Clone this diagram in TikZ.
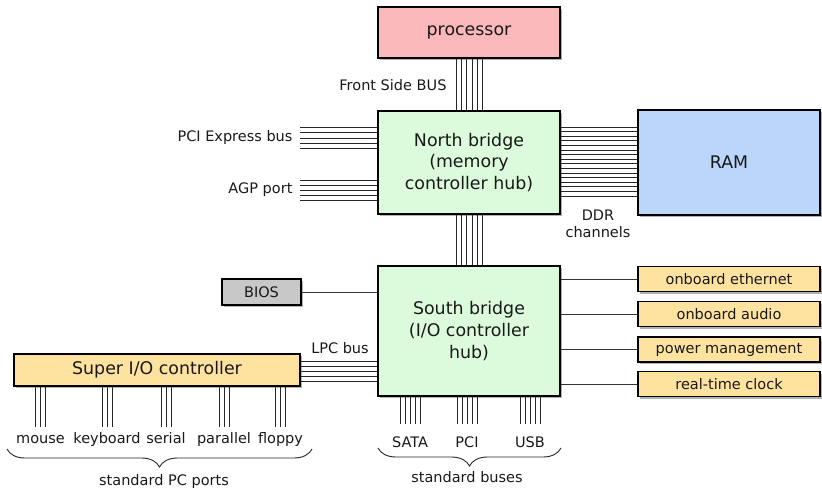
\documentclass[tikz,border=0pt]{standalone}
\usepackage{fontspec}
\setmainfont{DejaVu Sans}
\usepackage{tikz}
\usetikzlibrary{positioning,calc,shadows,decorations.pathreplacing}

\definecolor{cpupink}{RGB}{251,184,186}
\definecolor{bridgegreen}{RGB}{220,251,220}
\definecolor{ramblue}{RGB}{187,213,251}
\definecolor{biosgray}{RGB}{200,200,200}
\definecolor{chipyellow}{RGB}{254,226,160}

\tikzset{
  block/.style={draw=black, line width=1.5pt, text=black!90, align=center,
    inner sep=0pt, font=\fontsize{17.4}{21.7}\selectfont,
    drop shadow={shadow xshift=2pt, shadow yshift=-2pt, opacity=0.3, fill=black}},
  small/.style={font=\fontsize{14.5}{17}\selectfont, text=black!90, align=center},
  lbl/.style={small, text height=10.5pt, text depth=3pt},
  bus/.style={line width=0.8pt, black!85},
  wire/.style={line width=0.9pt, black!80},
  bracket/.style={decorate, decoration={brace, mirror, amplitude=18pt}, line width=0.9pt, black!85}
}

\begin{document}
\begin{tikzpicture}[x=1pt,y=-1pt]
    \useasboundingbox (0,0) rectangle (822,488);

    % chips
    \node[block, fill=cpupink, minimum width=182, minimum height=51] (cpu) at (469,32.5) {processor};
    \node[block, fill=bridgegreen, minimum width=182, minimum height=103] (nb) at (469,162.5) {North bridge\\(memory\\controller hub)};
    \node[block, fill=ramblue, minimum width=182, minimum height=105] (ram) at (729,162.5) {RAM};
    \node[block, fill=bridgegreen, minimum width=182, minimum height=130] (sb) at (469,331) {South bridge\\(I/O controller\\hub)};
    \node[block, small, fill=biosgray, minimum width=79, minimum height=26] (bios) at (261.5,292) {BIOS};
    \node[block, fill=chipyellow, minimum width=286, minimum height=32] (sio) at (157,370) {Super I/O controller};

    % onboard devices
    \foreach \name/\y/\txt in {eth/279/onboard ethernet, audio/314/onboard audio,
                                power/349.5/power management, rtc/384/real-time clock} {
        \node[block, small, fill=chipyellow, minimum width=182, minimum height=25] (\name) at (729,\y) {\txt};
        \draw[wire] (\name.west -| sb.east) -- (\name.west);
    }
    \draw[wire] (bios.east) -- (bios.east -| sb.west);

    % labels
    \node[lbl, anchor=east] (fsblabel) at (450,87) {Front Side BUS};
    \node[lbl, anchor=east] (pcie) at (296,138) {PCI Express bus};
    \node[lbl, anchor=east] (agp) at (296,190) {AGP port};
    \node[small] (ddr) at (598,224) {DDR\\channels};
    \node[lbl] (lpc) at (340,350) {LPC bus};

    % buses
    \foreach \d in {0,...,5} {
        \draw[bus] ($(cpu.south)+(-12.6+5.2*\d,0)$) -- ($(cpu.south |- nb.north)+(-12.6+5.2*\d,0)$);
        \draw[bus] ($(nb.south)+(-12.6+5.2*\d,0)$) -- ($(nb.south |- sb.north)+(-12.6+5.2*\d,0)$);
    }
    \foreach \d in {-2,...,2} {
        \draw[bus] ($(pcie.east)+(4,5.3*\d)$) -- ($(pcie.east -| nb.west)+(0,5.3*\d)$);
        \draw[bus] ($(agp.east)+(4,5*\d)$) -- ($(agp.east -| nb.west)+(0,5*\d)$);
        \draw[bus] ($(sio.east)+(0,1+5*\d)$) -- ($(sio.east -| sb.west)+(0,1+5*\d)$);
    }
    \foreach \d in {0,...,15}
        \draw[bus] ($(nb.east)+(0,-35.5+4.6*\d)$) -- ($(nb.east -| ram.west)+(0,-35.5+4.6*\d)$);

    % standard PC ports
    \foreach \name/\x/\txt in {mouse/40.5/mouse, keyboard/107/keyboard, serial/166/serial,
                                parallel/224/parallel, floppy/280.5/floppy} {
        \node[lbl] (\name) at (\x,440) {\txt};
        \foreach \d in {-1,0,1}
            \draw[bus] ($(\name.north |- sio.south)+(5*\d,0)$) -- ++(0,40);
    }

    % standard buses
    \foreach \name/\x/\txt in {sata/410/SATA, pci/467/PCI, usb/530/USB} {
        \node[lbl] (\name) at (\x,444) {\txt};
        \foreach \d in {-2,...,2}
            \draw[bus] ($(\name.north |- sb.south)+(5*\d,0)$) -- ++(0,27);
    }

    % braces
    \coordinate (portsL) at (7,449);
    \coordinate (portsR) at (312,449);
    \coordinate (busesL) at (378,448);
    \coordinate (busesR) at (561,448);
    \draw[bracket] (portsL) -- (portsR);
    \draw[bracket] (busesL) -- (busesR);
    \node[lbl] (portstxt) at (164,482) {standard PC ports};
    \node[lbl] (busestxt) at (467,479) {standard buses};
\end{tikzpicture}
\end{document}
